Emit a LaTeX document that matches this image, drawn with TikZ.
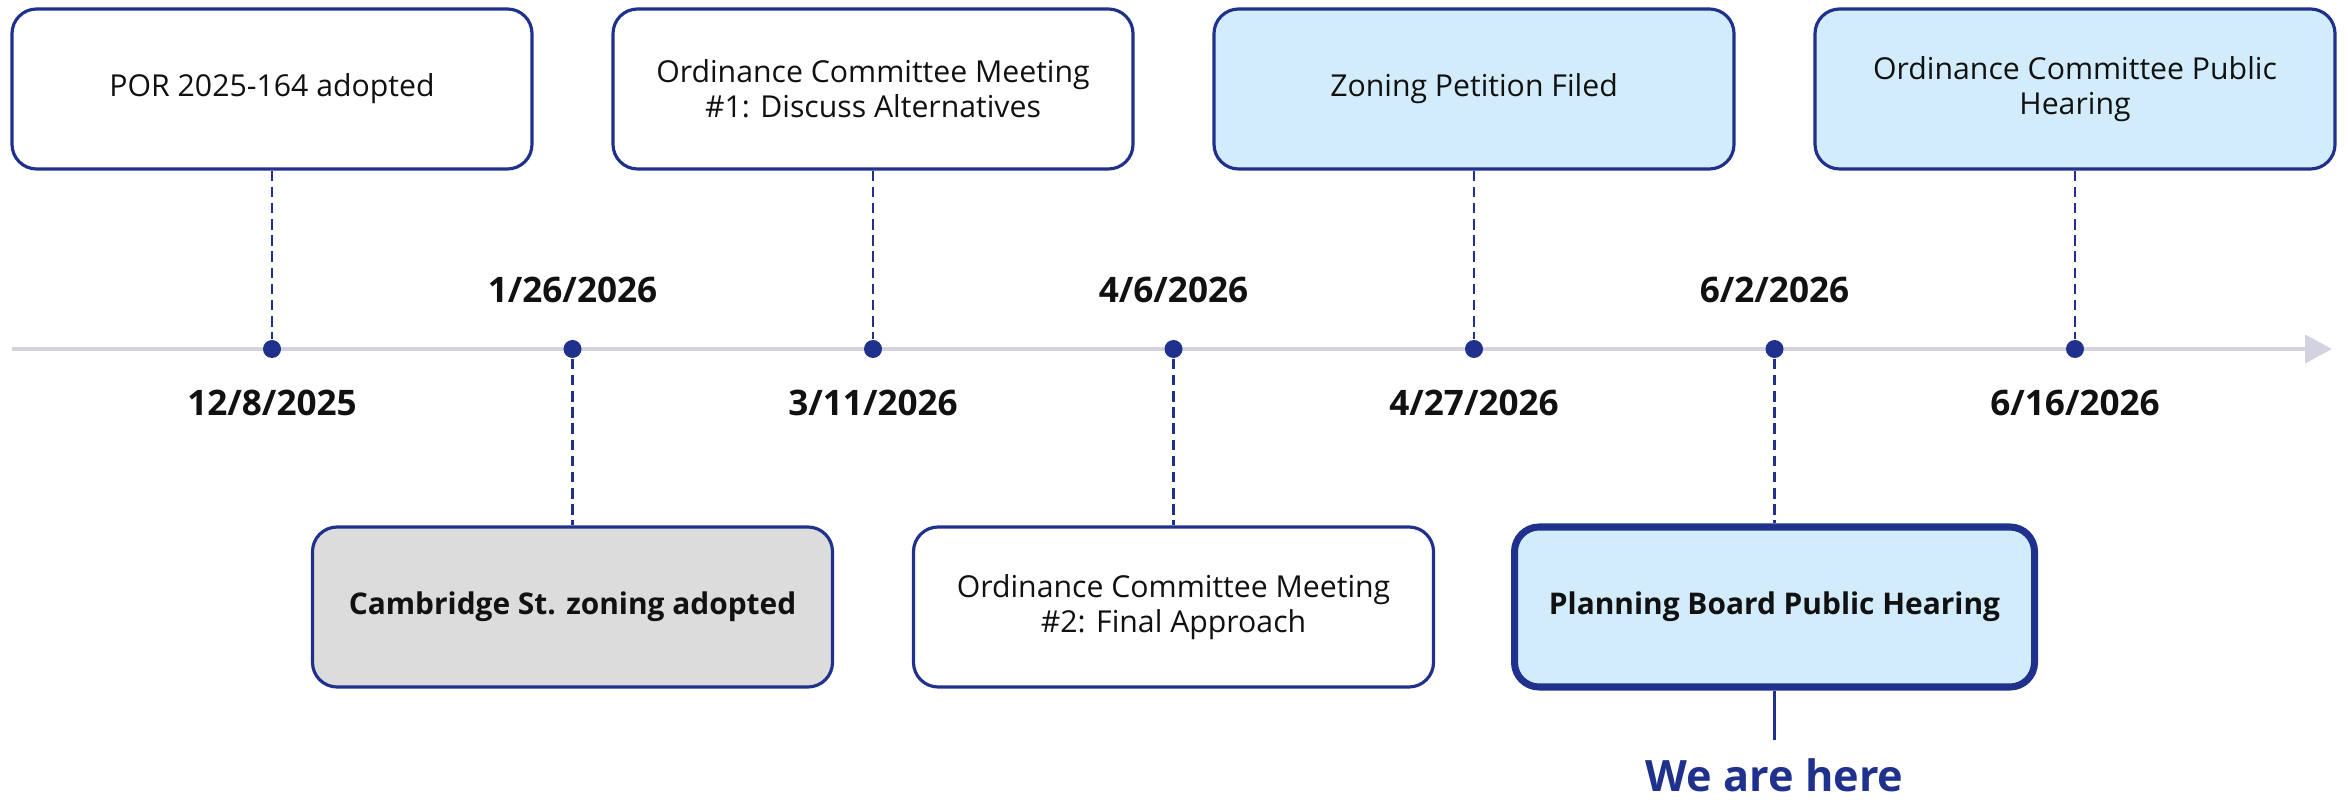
\documentclass[tikz,border=0pt]{standalone}
\usepackage{fontspec}
\setmainfont{Open Sans}
\usepackage{tikz}
\usepackage{xcolor}
\usetikzlibrary{arrows.meta,positioning}
\definecolor{navy}{HTML}{1F318C}
\definecolor{linegray}{HTML}{D2D2E0}
\definecolor{skybg}{HTML}{D2ECFC}
\definecolor{donebg}{HTML}{DCDCDC}
\definecolor{ink}{HTML}{111111}
\tikzset{
  eventbox/.style={draw=navy,fill=white,line width=0.9pt,rounded corners=7pt,
                   minimum width=5.2cm,minimum height=1.6cm,text=ink,
                   align=center,font=\fontsize{8.6}{10}\selectfont,inner sep=4pt},
  pastbox/.style={eventbox,fill=donebg,font=\fontsize{8.5}{10}\selectfont\bfseries},
  comingbox/.style={eventbox,fill=skybg},
  nowbox/.style={eventbox,fill=skybg,line width=2pt,font=\fontsize{8.5}{10}\selectfont\bfseries},
  datelabel/.style={font=\fontsize{10}{12}\selectfont\bfseries,text=ink},
  tickdot/.style={circle,fill=navy,inner sep=0pt,minimum size=0.18cm},
  tickline/.style={draw=navy,line width=0.6pt,dash pattern=on 3pt off 1.6pt},
  timearr/.style={-{Triangle[length=0.27cm,width=0.28cm]},draw=linegray,line width=1.2pt}
}
\begin{document}
\begin{tikzpicture}[x=1cm,y=1cm]
  \useasboundingbox (0,-4.51) rectangle (23.48,3.49);

  % axis
  \coordinate (start) at (0.12,0);
  \coordinate (stop) at (23.32,0);
  \draw[timearr] (start) -- (stop);

  \node[tickdot] (t1) at (2.72,0) {};
  \node[tickdot] (t2) at (5.725,0) {};
  \node[tickdot] (t3) at (8.73,0) {};
  \node[tickdot] (t4) at (11.735,0) {};
  \node[tickdot] (t5) at (14.74,0) {};
  \node[tickdot] (t6) at (17.745,0) {};
  \node[tickdot] (t7) at (20.75,0) {};

  \node[datelabel] (d1) at (2.72,-0.54) {12/8/2025};
  \node[datelabel] (d2) at (5.725,0.59) {1/26/2026};
  \node[datelabel] (d3) at (8.73,-0.54) {3/11/2026};
  \node[datelabel] (d4) at (11.735,0.59) {4/6/2026};
  \node[datelabel] (d5) at (14.74,-0.54) {4/27/2026};
  \node[datelabel] (d6) at (17.745,0.59) {6/2/2026};
  \node[datelabel] (d7) at (20.75,-0.54) {6/16/2026};

  % events above
  \node[eventbox] (por) at (2.72,2.6) {POR 2025-164 adopted};
  \node[eventbox] (ocm1) at (8.73,2.6) {Ordinance Committee Meeting\\\#1: Discuss Alternatives};
  \node[comingbox] (petition) at (14.74,2.6) {Zoning Petition Filed};
  \node[comingbox] (ocph) at (20.75,2.6) {Ordinance Committee Public\\Hearing};

  % events below
  \node[pastbox] (cambridge) at (5.725,-2.58) {Cambridge St. zoning adopted};
  \node[eventbox] (ocm2) at (11.735,-2.58) {Ordinance Committee Meeting\\\#2: Final Approach};
  \node[nowbox] (pbph) at (17.745,-2.58) {Planning Board Public Hearing};

  \draw[tickline] (por) -- (t1);
  \draw[tickline] (t2) -- (cambridge);
  \draw[tickline] (ocm1) -- (t3);
  \draw[tickline] (t4) -- (ocm2);
  \draw[tickline] (petition) -- (t5);
  \draw[tickline] (t6) -- (pbph);
  \draw[tickline] (ocph) -- (t7);

  \node[font=\fontsize{12.3}{14}\selectfont\bfseries,text=navy,inner sep=2pt] (here) at (17.745,-4.26) {We are here};
  \draw[navy,line width=1pt] (pbph) -- ([yshift=3pt]here.north);
\end{tikzpicture}
\end{document}
